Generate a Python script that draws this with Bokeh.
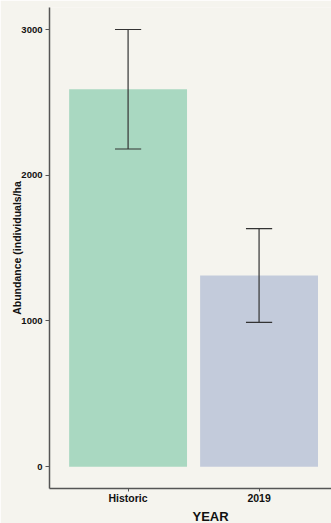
from bokeh.plotting import figure
from bokeh.models import Range1d, FixedTicker, Title
from bokeh.embed import file_html
from bokeh.resources import INLINE

# Mean abundance per survey period, with error bar half-widths
years = ["Historic", "2019"]
abundance = [2590, 1312]
error = [410, 322]
bar_colors = ["#a9d8c1", "#c3cbdb"]

xs = [1, 2]
bg = "#f5f4ee"
font = "Liberation Sans"

p = figure(width=331, height=523, output_backend="svg", toolbar_location=None,
           x_range=Range1d(0.4, 2.553), y_range=Range1d(-150, 3151),
           min_border_left=49, min_border_right=0, min_border_top=7, min_border_bottom=33)
p.background_fill_color = bg
p.border_fill_color = bg
p.outline_line_color = None
p.grid.visible = False

p.vbar(x=xs, top=abundance, bottom=0, width=0.9, fill_color=bar_colors, line_color=None)

lo = [a - e for a, e in zip(abundance, error)]
hi = [a + e for a, e in zip(abundance, error)]
p.segment(x0=xs, y0=lo, x1=xs, y1=hi, line_color="#333333", line_width=1.2)
p.segment(x0=[x - 0.1 for x in xs], y0=hi, x1=[x + 0.1 for x in xs], y1=hi,
          line_color="#333333", line_width=1.2)
p.segment(x0=[x - 0.1 for x in xs], y0=lo, x1=[x + 0.1 for x in xs], y1=lo,
          line_color="#333333", line_width=1.2)

for ax in (p.xaxis[0], p.yaxis[0]):
    ax.axis_line_color = "#555555"
    ax.axis_line_width = 1.5
    ax.major_tick_line_color = "#555555"
    ax.major_tick_in = 0
    ax.minor_tick_line_color = None
    ax.major_label_text_font = font
    ax.major_label_text_font_style = "bold"
    ax.major_label_text_color = "#111111"

p.yaxis.ticker = FixedTicker(ticks=[0, 1000, 2000, 3000])
p.yaxis.major_tick_out = 4
p.yaxis.major_label_text_font_size = "9.5px"
p.yaxis.major_label_standoff = 3
p.yaxis.axis_label = "Abundance (individuals/ha"
p.yaxis.axis_label_text_font = font
p.yaxis.axis_label_text_font_style = "bold"
p.yaxis.axis_label_text_font_size = "10.5px"
p.yaxis.axis_label_text_color = "#111111"
p.yaxis.axis_label_standoff = -5

p.xaxis.ticker = FixedTicker(ticks=xs)
p.xaxis.major_label_overrides = {x: y for x, y in zip(xs, years)}
p.xaxis.major_tick_out = 3
p.xaxis.major_label_text_font_size = "10.5px"
p.xaxis.major_label_standoff = 0

# x-axis title under the tick labels
p.add_layout(Title(text="YEAR", align="left", offset=143, standoff=0,
                   text_font=font, text_font_style="bold", text_font_size="13px",
                   text_line_height=0.8, text_color="#111111"), "below")

open("out.html", "w").write(file_html(p, INLINE))
